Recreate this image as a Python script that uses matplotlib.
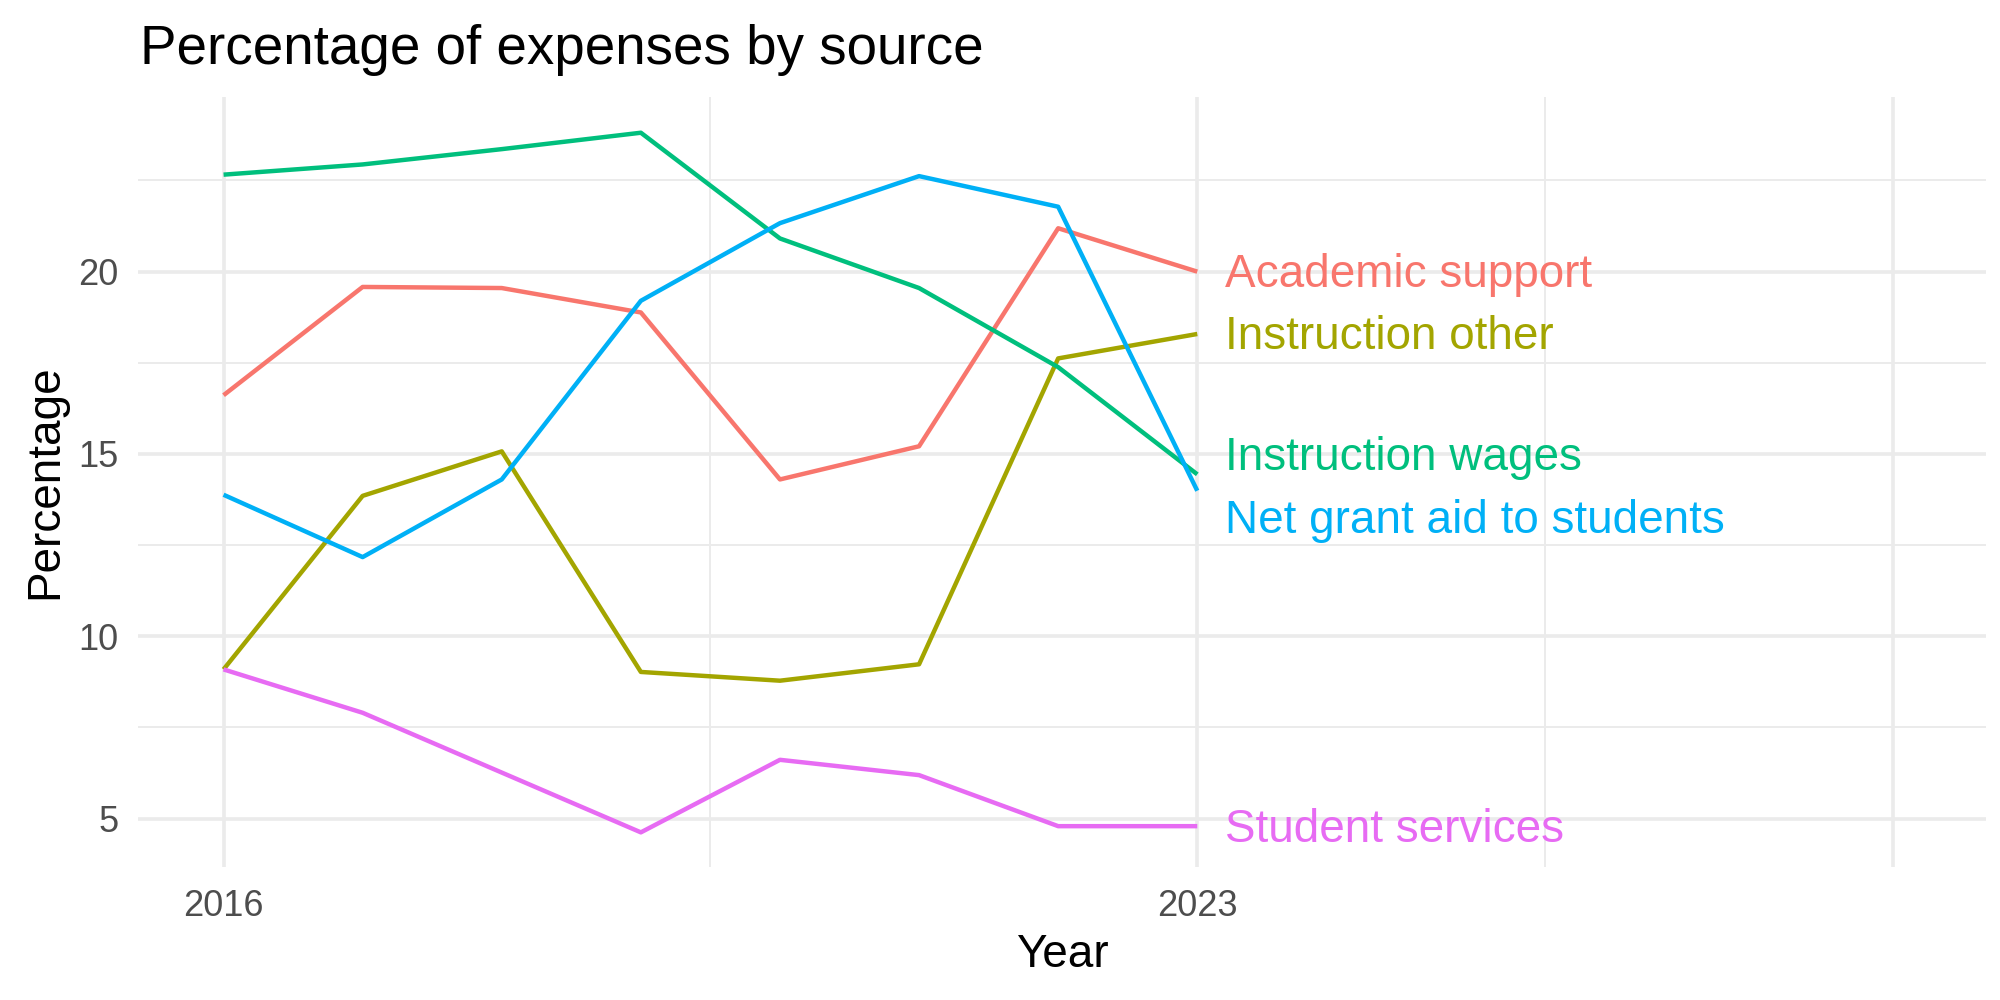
import numpy as np
import matplotlib.pyplot as plt
from matplotlib.ticker import FixedLocator

plt.rcParams['font.family'] = ['Liberation Sans', 'DejaVu Sans']

years = [2016, 2017, 2018, 2019, 2020, 2021, 2022, 2023]
academic_support = [16.61, 19.58, 19.55, 18.88, 14.30, 15.21, 21.19, 20.00]
instruction_other = [9.09, 13.85, 15.07, 9.02, 8.78, 9.23, 17.62, 18.29]
instruction_wages = [22.66, 22.94, 23.36, 23.81, 20.91, 19.55, 17.38, 14.44]
net_grant_aid = [13.88, 12.17, 14.30, 19.20, 21.33, 22.62, 21.78, 13.99]
student_services = [9.09, 7.90, 6.26, 4.62, 6.61, 6.19, 4.79, 4.79]

names = ["Academic support", "Instruction other", "Instruction wages",
         "Net grant aid to students", "Student services"]
series = [academic_support, instruction_other, instruction_wages,
          net_grant_aid, student_services]
colors = ["#F8766D", "#A3A500", "#00BF7D", "#00B0F6", "#E76BF3"]
# label heights after spreading apart overlapping ones
label_y = [20.0, 18.29, 14.97, 13.25, 4.79]

fig = plt.figure(figsize=(10, 5), dpi=200)
ax = fig.add_axes([0.069, 0.133, 0.924, 0.770])

for name, vals, c, ly in zip(names, series, colors, label_y):
    ax.plot(years, vals, color=c, linewidth=1.6, solid_capstyle='butt', zorder=3)
    ax.annotate(name, (years[-1] + 0.2, ly), xytext=(0, -1.2),
                textcoords='offset points', color=c, fontsize=16.5,
                va='center', ha='left', zorder=4)

ax.set_xlim(2015.385, 2028.67)
ax.set_ylim(3.67, 24.79)

ax.xaxis.set_major_locator(FixedLocator([2016, 2023, 2028]))
ax.xaxis.set_minor_locator(FixedLocator([2019.5, 2025.5]))
ax.set_xticklabels(["2016", "2023", ""])
ax.yaxis.set_major_locator(FixedLocator([5, 10, 15, 20]))
ax.yaxis.set_minor_locator(FixedLocator([7.5, 12.5, 17.5, 22.5]))

ax.grid(True, which='major', color='#EBEBEB', linewidth=1.3)
ax.grid(True, which='minor', color='#EBEBEB', linewidth=0.7)
ax.set_axisbelow(True)
for s in ax.spines.values():
    s.set_visible(False)
ax.tick_params(which='both', length=0, labelsize=13, labelcolor='#4D4D4D')
ax.tick_params(axis='x', pad=8)
ax.tick_params(axis='y', pad=7)

ax.set_xlabel("Year", fontsize=16.5, labelpad=3)
ax.set_ylabel("Percentage", fontsize=16.5, labelpad=4)
fig.text(0.07, 0.936, "Percentage of expenses by source", fontsize=19.7,
         ha='left', va='baseline')

fig.savefig("out.png", dpi=200, facecolor='white')
